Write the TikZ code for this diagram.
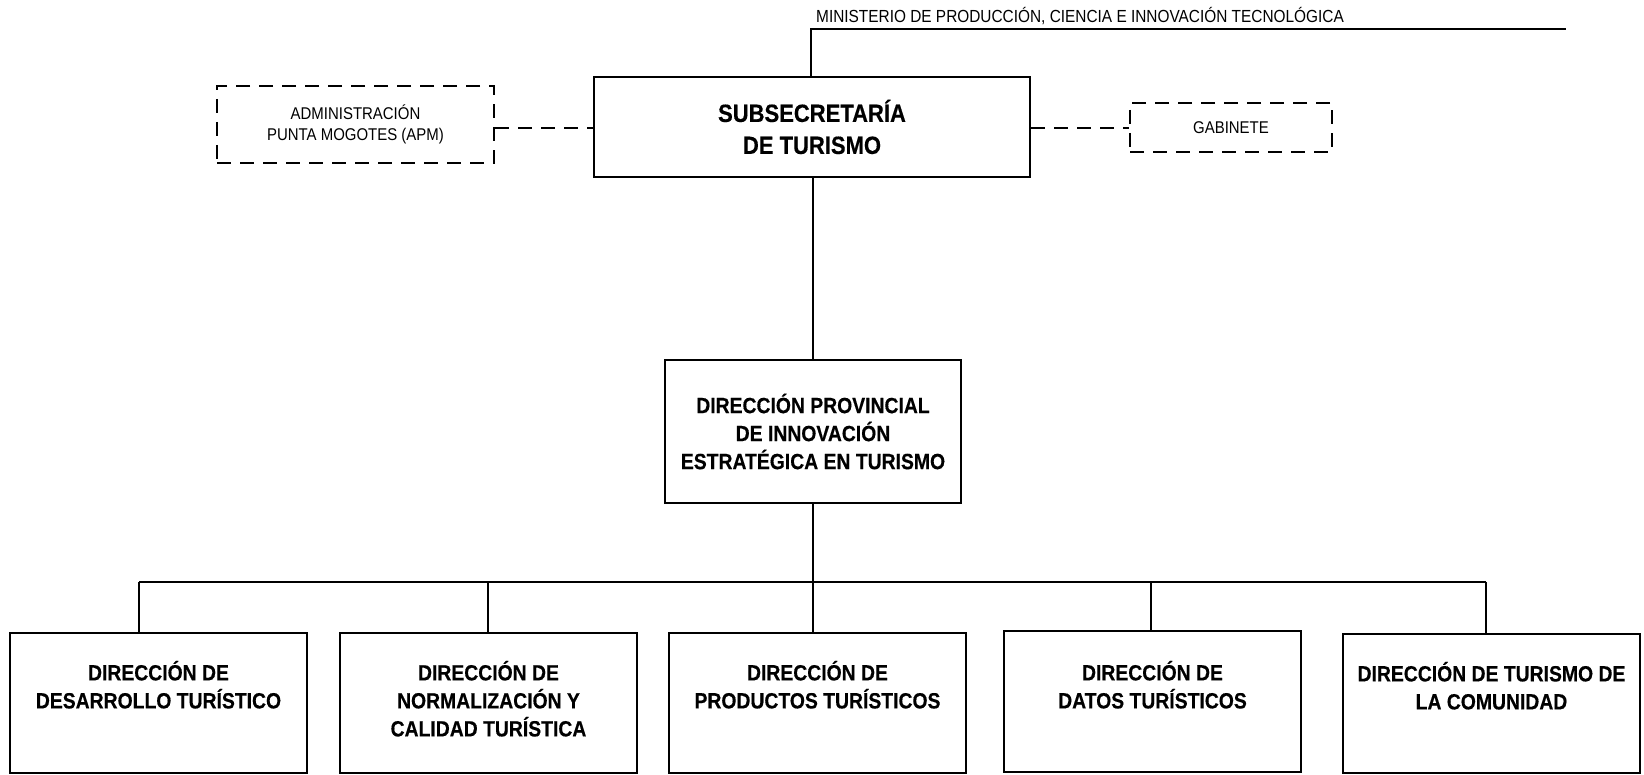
\documentclass[tikz,border=0pt]{standalone}
\usepackage{fontspec}
\newfontfamily\orgfont[FakeStretch=0.88,BoldFeatures={FakeBold=0.4}]{Liberation Sans}
\begin{document}
\begin{tikzpicture}[x=1pt,y=1pt,
  solidbox/.style={draw, line width=2.6pt, inner sep=0pt},
  dashbox/.style={draw, line width=2.6pt, dash pattern=on 14pt off 9pt, inner sep=0pt},
  small/.style={font=\orgfont\fontsize{17}{21}\selectfont, align=center, inner sep=0pt},
  big/.style={font=\orgfont\bfseries\fontsize{25}{32}\selectfont, align=center},
  mid/.style={font=\orgfont\bfseries\fontsize{22}{28}\selectfont, align=center, inner sep=0pt},
  link/.style={line width=2.4pt},
  dashlink/.style={line width=2.6pt, dash pattern=on 14pt off 9pt}
]
\useasboundingbox (0,0) rectangle (1644,775);

% top level
\node[solidbox, big, minimum width=436, minimum height=100] (sub) at (812,648) {SUBSECRETARÍA\\DE TURISMO};
\node[dashbox, small, minimum width=277, minimum height=77] (apm) at (355.5,650.5) {ADMINISTRACIÓN\\PUNTA MOGOTES (APM)};
\node[dashbox, small, minimum width=202, minimum height=49] (gab) at (1231,647.5) {GABINETE};

% ministry
\coordinate (m1) at (811,746);
\coordinate (m2) at (1566,746);
\node[small, font=\orgfont\fontsize{17.5}{21}\selectfont, anchor=west] (min) at (816,759) {MINISTERIO DE PRODUCCIÓN, CIENCIA E INNOVACIÓN TECNOLÓGICA};
\draw[link] (sub.north -| m1) -- (m1) -- (m2);

% dashed links
\coordinate (dl) at (0,647);
\draw[dashlink] (apm.east |- dl) -- (sub.west |- dl);
\draw[dashlink] (sub.east |- dl) -- (gab.west |- dl);

% provincial direction
\node[solidbox, mid, minimum width=296, minimum height=143] (dp) at (813,343.5) {DIRECCIÓN PROVINCIAL\\DE INNOVACIÓN\\ESTRATÉGICA EN TURISMO};
\draw[link] (sub.south -| dp.north) -- (dp.north);

% bottom boxes
\node[solidbox, minimum width=297, minimum height=140] (d1) at (158.5,72) {};
\node[solidbox, minimum width=297, minimum height=140] (d2) at (488.5,72) {};
\node[solidbox, minimum width=297, minimum height=140] (d3) at (817.5,72) {};
\node[solidbox, minimum width=297, minimum height=141] (d4) at (1152.5,73.5) {};
\node[solidbox, minimum width=297, minimum height=139] (d5) at (1491.5,71.5) {};

\node[mid, anchor=north] (t1) at ([yshift=-29pt]d1.north) {DIRECCIÓN DE\\DESARROLLO TURÍSTICO};
\node[mid, anchor=north] (t2) at ([yshift=-29pt]d2.north) {DIRECCIÓN DE\\NORMALIZACIÓN Y\\CALIDAD TURÍSTICA};
\node[mid, anchor=north] (t3) at ([yshift=-29pt]d3.north) {DIRECCIÓN DE\\PRODUCTOS TURÍSTICOS};
\node[mid, anchor=north] (t4) at ([yshift=-31pt]d4.north) {DIRECCIÓN DE\\DATOS TURÍSTICOS};
\node[mid, anchor=north] (t5) at ([yshift=-29pt]d5.north) {DIRECCIÓN DE TURISMO DE\\LA COMUNIDAD};

% bus
\coordinate (j1) at (139,193);
\coordinate (j2) at (488,193);
\coordinate (j3) at (813,193);
\coordinate (j4) at (1151,193);
\coordinate (j5) at (1486,193);
\draw[link] (dp.south) -- (j3);
\draw[link] (j1) -- (j5);
\draw[link] (j1) -- (j1 |- d1.north);
\draw[link] (j2) -- (j2 |- d2.north);
\draw[link] (j3) -- (j3 |- d3.north);
\draw[link] (j4) -- (j4 |- d4.north);
\draw[link] (j5) -- (j5 |- d5.north);
\end{tikzpicture}
\end{document}
